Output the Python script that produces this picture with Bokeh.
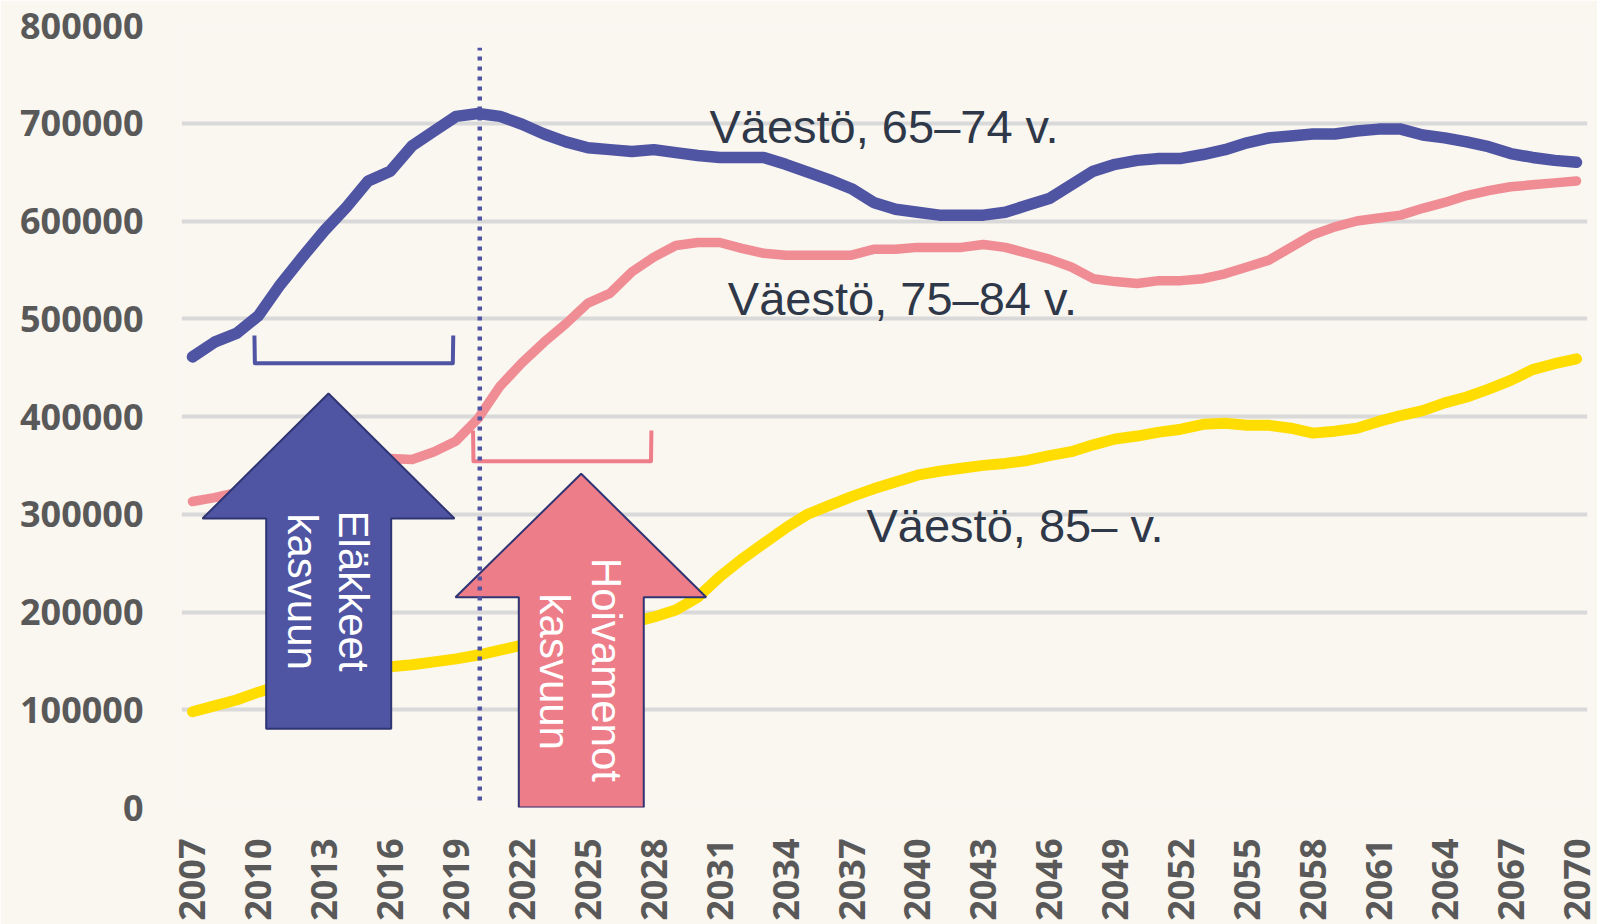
import math
from bokeh.plotting import figure
from bokeh.models import Range1d, FixedTicker, BasicTickFormatter, Label
from bokeh.embed import file_html
from bokeh.resources import INLINE

# ---- data -------------------------------------------------------------
years = list(range(2007, 2071))

vaesto_65_74 = [
    461000, 476000, 485000, 503000, 535000, 563000, 590000, 614000, 641000, 651000,
    677000, 692000, 707000, 710000, 707000, 699000, 689000, 681000, 675000, 673000,
    671000, 673000, 670000, 667000, 665000, 665000, 665000, 658000, 650000, 642000,
    633000, 619000, 612000, 609000, 606000, 606000, 606000, 609000, 616000, 623000,
    637000, 651000, 658000, 662000, 664000, 664000, 668000, 673000, 680000, 685000,
    687000, 689000, 689000, 692000, 694000, 694000, 688000, 685000, 681000, 676000,
    669000, 665000, 662000, 660000,
]

vaesto_75_84 = [
    313000, 317000, 322000, 327000, 333000, 339000, 345000, 350000, 355000, 357000,
    356000, 364000, 375000, 398000, 431000, 455000, 476000, 495000, 516000, 526000,
    548000, 563000, 575000, 578000, 578000, 572000, 567000, 565000, 565000, 565000,
    565000, 571000, 571000, 573000, 573000, 573000, 576000, 573000, 567000, 561000,
    553000, 541000, 538000, 536000, 539000, 539000, 541000, 546000, 553000, 560000,
    573000, 586000, 594000, 600000, 603000, 606000, 613000, 619000, 626000, 631000,
    635000, 637000, 639000, 641000,
]

vaesto_85 = [
    98000, 104000, 110000, 118000, 125000, 130000, 134000, 138000, 141000, 144000,
    146000, 149000, 152000, 156000, 161000, 166000, 171000, 176000, 181000, 185000,
    189000, 195000, 202000, 215000, 236000, 254000, 270000, 286000, 300000, 309000,
    318000, 326000, 333000, 340000, 344000, 347000, 350000, 352000, 355000, 360000,
    364000, 371000, 377000, 380000, 384000, 387000, 392000, 393000, 391000, 391000,
    388000, 383000, 385000, 388000, 395000, 401000, 406000, 414000, 420000, 428000,
    437000, 448000, 454000, 459000,
]

y_ticks = [0, 100000, 200000, 300000, 400000, 500000, 600000, 700000, 800000]
x_ticks = years[::3]

series_labels = ["Väestö, 65–74 v.", "Väestö, 75–84 v.", "Väestö, 85– v."]

# ---- styling ----------------------------------------------------------
BG = "#FAF6F0"
BLUE = "#4F55A3"
PINK = "#F08C94"
PINK_ARROW = "#ED7D89"
YELLOW = "#FFDD00"
OUTLINE = "#2F3472"
TXT = "#2E3848"
AXIS_TXT = "#595959"

p = figure(width=1597, height=924,
           x_range=Range1d(2006.5, 2070.5), y_range=Range1d(0, 800000),
           output_backend="svg", toolbar_location=None,
           min_border_left=181, min_border_right=10,
           min_border_top=25, min_border_bottom=117)

p.background_fill_color = BG
p.border_fill_color = BG
p.outline_line_color = None

p.xgrid.visible = False
p.ygrid.ticker = FixedTicker(ticks=y_ticks)
p.ygrid.grid_line_color = "#D9D9D9"
p.ygrid.grid_line_width = 4

for ax in (p.xaxis, p.yaxis):
    ax.axis_line_color = None
    ax.major_tick_line_color = None
    ax.minor_tick_line_color = None
    ax.major_tick_in = 0
    ax.major_tick_out = 0
    ax.major_label_text_font = "Open Sans"
    ax.major_label_text_font_style = "bold"
    ax.major_label_text_font_size = "36px"
    ax.major_label_text_color = AXIS_TXT

p.yaxis.ticker = FixedTicker(ticks=y_ticks)
p.yaxis.formatter = BasicTickFormatter(use_scientific=False)
p.yaxis.major_label_standoff = 38

p.xaxis.ticker = FixedTicker(ticks=x_ticks)
p.xaxis.formatter = BasicTickFormatter(use_scientific=False)
p.xaxis.major_label_orientation = math.pi / 2
p.xaxis.major_label_standoff = 31

# ---- series -----------------------------------------------------------
p.line(years, vaesto_85, line_color=YELLOW, line_width=11, line_cap="round", line_join="round")
p.line(years, vaesto_75_84, line_color=PINK, line_width=9.5, line_cap="round", line_join="round")
p.line(years, vaesto_65_74, line_color=BLUE, line_width=11.5, line_cap="round", line_join="round")

# ---- brackets ---------------------------------------------------------
p.line([2009.82, 2009.84, 2018.85, 2018.87], [482900, 454500, 454500, 482900],
       line_color=BLUE, line_width=4, line_join="round")
p.line([2019.77, 2019.79, 2027.87, 2027.89], [385700, 354300, 354300, 385700],
       line_color="#EE7E8A", line_width=4, line_join="round")

# ---- arrows -----------------------------------------------------------
p.patch([2013.191, 2018.926, 2016.045, 2016.045, 2010.355, 2010.355, 2007.456],
        [423500, 295600, 295600, 80500, 80500, 295600, 295600],
        fill_color=BLUE, line_color=OUTLINE, line_width=2)
p.patch([2024.693, 2030.383, 2027.542, 2027.542, 2021.853, 2021.853, 2018.971],
        [341400, 215100, 215100, 0, 0, 215100, 215100],
        fill_color=PINK_ARROW, line_color=OUTLINE, line_width=2)

# ---- dotted marker line ----------------------------------------------
p.line([2020.077, 2020.077], [7200, 777200], line_color=BLUE, line_width=4.5,
       line_dash="4 6", line_cap="butt")

# ---- texts ------------------------------------------------------------
for (x, y, t) in [(2030.53, 696800, series_labels[0]),
                  (2031.37, 521200, series_labels[1]),
                  (2037.68, 288300, series_labels[2])]:
    p.add_layout(Label(x=x, y=y, text=t, text_font="Liberation Sans",
                       text_font_size="47px", text_color=TXT,
                       text_align="left", text_baseline="alphabetic"))

for (x, y, t) in [(2014.34, 303800, "Eläkkeet"),
                  (2012.00, 300800, "kasvuun"),
                  (2025.84, 255400, "Hoivamenot"),
                  (2023.50, 218900, "kasvuun")]:
    p.add_layout(Label(x=x, y=y, text=t, angle=-math.pi / 2,
                       text_font="Liberation Sans", text_font_size="42px",
                       text_color="white", text_align="left",
                       text_baseline="alphabetic"))

open("out.html", "w").write(file_html(p, INLINE))
